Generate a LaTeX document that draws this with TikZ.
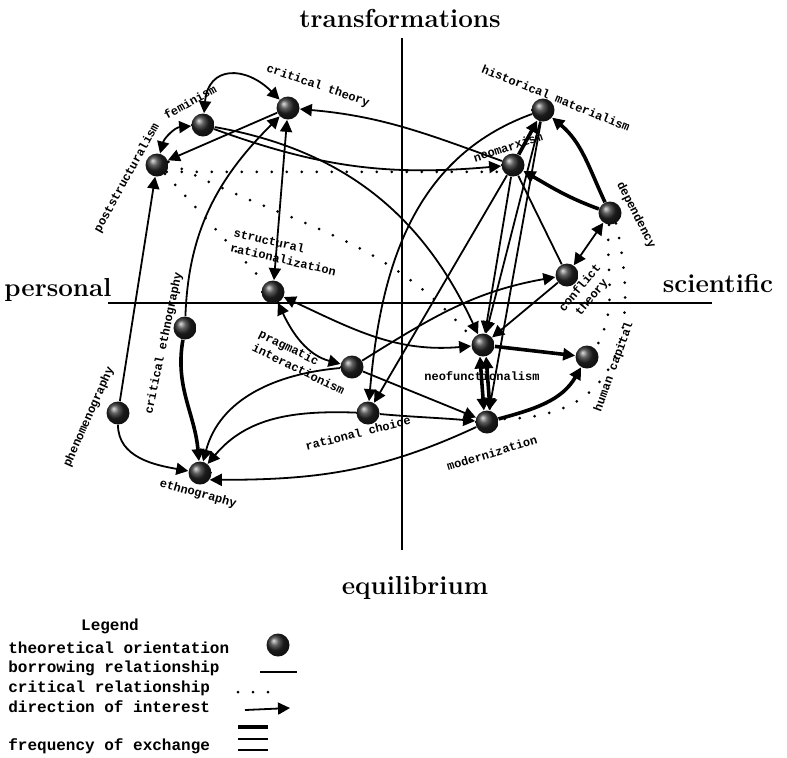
\documentclass[tikz,border=0pt]{standalone}
\usepackage{fontspec}
\setmonofont{Liberation Mono}
\usepackage{tikz}
\usetikzlibrary{arrows.meta,calc}

\begin{document}
\begin{tikzpicture}[x=0.5pt,y=0.5pt,>={Triangle[length=6pt,width=6pt]},
    ball/.style={circle,inner sep=0pt,minimum size=11.5pt,ball color=black!85},
    lbl/.style={font=\fontsize{6}{7.6}\selectfont\ttfamily\bfseries,inner sep=0pt},
    axislbl/.style={font=\fontsize{13}{14}\selectfont\bfseries,inner sep=0pt},
    leg/.style={font=\fontsize{8}{9}\selectfont\ttfamily\bfseries,inner sep=0pt,anchor=west},
    borrow/.style={line width=0.9pt},
    freq/.style={line width=1.8pt},
    crit/.style={line width=1.5pt,line cap=round,dash pattern=on 0pt off 7.5pt}]
  \useasboundingbox (0,0) rectangle (787,-757);

  % axes
  \coordinate (vtop) at (402,-38);
  \coordinate (vbot) at (402,-550);
  \coordinate (hlft) at (108,-303);
  \coordinate (hrgt) at (712,-303);
  \draw[line width=0.8pt] (vtop) -- (vbot);
  \draw[line width=0.8pt] (hlft) -- (hrgt);
  \node[axislbl] (trans) at (400,-18) {transformations};
  \node[axislbl] (equil) at (415,-588) {equilibrium};
  \node[axislbl] (pers) at (58,-290) {personal};
  \node[axislbl] (scie) at (718,-283) {scientific};

  % theoretical orientations
  \node[ball] (ct) at (288,-108) {};
  \node[ball] (fem) at (203,-125) {};
  \node[ball] (ps) at (157,-165) {};
  \node[ball] (hm) at (543,-110) {};
  \node[ball] (nm) at (513,-165) {};
  \node[ball] (dep) at (610,-213) {};
  \node[ball] (conf) at (567,-275) {};
  \node[ball] (sr) at (273,-292) {};
  \node[ball] (ce) at (185,-328) {};
  \node[ball] (pi) at (352,-367) {};
  \node[ball] (ph) at (118,-413) {};
  \node[ball] (rc) at (368,-413) {};
  \node[ball] (eth) at (200,-473) {};
  \node[ball] (nf) at (483,-345) {};
  \node[ball] (mod) at (487,-422) {};
  \node[ball] (hc) at (587,-357) {};

  \node[lbl,rotate=-19] (lblct) at (318,-86) {critical theory};
  \node[lbl,rotate=29] (lblfem) at (190,-102) {feminism};
  \node[lbl,rotate=61] (lblps) at (127,-178) {poststructuralism};
  \node[lbl,rotate=-22] (lblhm) at (556,-98) {historical materialism};
  \node[lbl,rotate=18] (lblnm) at (508,-147) {neomarxism};
  \node[lbl,rotate=-63] (lbldep) at (636,-215) {dependency};
  \node[lbl,rotate=50,align=center] (lblconf) at (586,-293) {conflict\\theory};
  \node[lbl,rotate=-13,align=left] (lblsr) at (285,-252) {structural\\rationalization};
  \node[lbl,rotate=78] (lblce) at (164,-343) {critical ethnography};
  \node[lbl,rotate=66] (lblph) at (89,-417) {phenomenography};
  \node[lbl,rotate=-26,align=left] (lblpi) at (302,-362) {pragmatic\\interactionism};
  \node[lbl,rotate=14] (lblrc) at (358,-433) {rational choice};
  \node[lbl] (lblnf) at (482,-376) {neofunctionalism};
  \node[lbl,rotate=17] (lblmod) at (492,-453) {modernization};
  \node[lbl,rotate=70] (lblhc) at (614,-367) {human capital};
  \node[lbl,rotate=-16] (lbleth) at (198,-494) {ethnography};

  % borrowing relationships
  \draw[borrow,<->] (fem) to[out=85,in=135,looseness=1.6] (ct);
  \draw[borrow,<->] (fem) to[out=185,in=75] (ps);
  \draw[borrow,->] (ct) -- (ps);
  \draw[borrow,->] (nm) to[out=160,in=-5] (ct);
  \draw[borrow,->] (fem) to[out=-20,in=185] (nm);
  \draw[borrow,->] (fem) to[out=-10,in=115] (nf);
  \draw[borrow,->] (ph) -- (ps);
  \draw[borrow,->] (ce) to[out=88,in=225] (ct);
  \draw[borrow,<->] (sr) -- (ct);
  \draw[borrow,<->] (sr) to[out=-65,in=165] (pi);
  \draw[borrow,<->] (sr) to[out=-25,in=185] (nf);
  \draw[borrow,->] (pi) to[out=32,in=190] (conf);
  \draw[borrow,->] (pi) -- (mod);
  \draw[borrow,->] (rc) to[out=-5,in=175] (mod);
  \draw[borrow,->] (rc) to[out=178,in=50] (eth);
  \draw[borrow,->] (pi) to[out=185,in=75] (eth);
  \draw[freq,->] (ce) to[out=-100,in=95] (eth);
  \draw[borrow,->] (ph) to[out=-90,in=170] (eth);
  \draw[borrow,->] (mod) to[out=205,in=0] (eth.-35);
  \draw[borrow,->] (hm) to[out=200,in=85] (rc);
  \draw[borrow,->] (nm) -- (rc);
  \draw[borrow,->] (nm) -- (nf);
  \draw[borrow,->] (hm) -- (nf);
  \draw[borrow,->] (hm) -- (mod);
  \draw[borrow,->] (conf) -- (nf);
  \draw[borrow] (nm) -- (conf);
  \draw[freq,->] (nm) -- (hm);
  \draw[freq,->] (dep) to[out=115,in=-40] (hm);
  \draw[freq,->] (dep) to[out=160,in=-30] (nm);
  \draw[borrow,<->] (dep) -- (conf);
  \draw[freq,->] (nf) -- (hc);
  \draw[freq,->] (mod) to[out=15,in=-120] (hc);
  \draw[freq,<->] (nf.-105) -- (mod.105);
  \draw[freq,<->] (nf.-75) -- (mod.75);

  % critical relationships
  \draw[crit] (ps.-35) -- (nm.-145);
  \draw[crit] (ps.15) to[out=-28,in=130] (nf.150);
  \draw[crit] (ps) -- (sr);
  \draw[crit] (dep.-95) to[out=-95,in=60] (hc.45);
  \draw[crit] (dep.-60) .. controls (640,-330) and (622,-420) .. (mod.15);

  % legend
  \node[leg,anchor=center] (leghead) at (110,-626) {Legend};
  \node[leg] (legori) at (8,-648) {theoretical orientation};
  \node[leg] (legbor) at (8,-668) {borrowing relationship};
  \node[leg] (legcri) at (8,-688) {critical relationship};
  \node[leg] (legdir) at (8,-707) {direction of interest};
  \node[leg] (legfrq) at (8,-746) {frequency of exchange};
  \node[ball] (legball) at (278,-645) {};
  \coordinate (borA) at (260,-672);
  \coordinate (borB) at (297,-672);
  \draw[borrow] (borA) -- (borB);
  \coordinate (criA) at (238,-692);
  \coordinate (criB) at (278,-692);
  \draw[crit] (criA) -- (criB);
  \coordinate (dirA) at (245,-710);
  \coordinate (dirB) at (290,-708);
  \draw[borrow,->] (dirA) -- (dirB);
  \foreach \yy/\ww in {727/1.8pt,739/1.2pt,750/1.2pt}
    \draw[line width=\ww] (238,-\yy) -- (268,-\yy);
\end{tikzpicture}
\end{document}
